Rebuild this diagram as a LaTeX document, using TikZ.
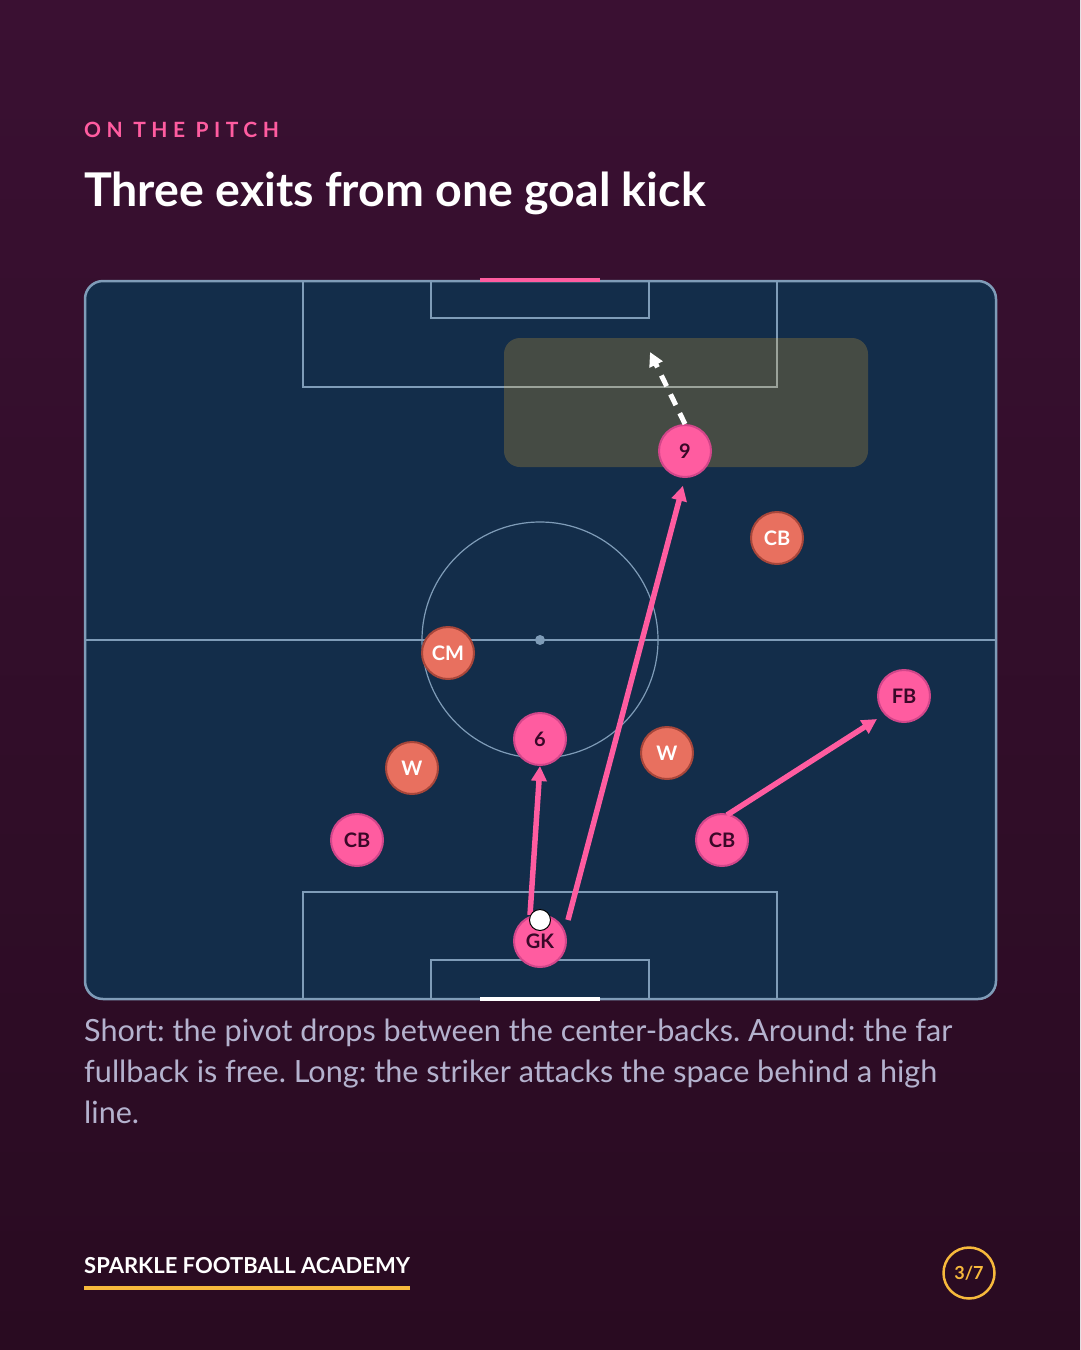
\documentclass[tikz,border=0pt]{standalone}
\usepackage{fontspec}
\setmainfont{Lato}
\newfontfamily\latospaced[LetterSpace=26]{Lato}
\usetikzlibrary{arrows.meta}
\definecolor{bgtop}{HTML}{3A1032}
\definecolor{bgbot}{HTML}{290B21}
\definecolor{pitch}{HTML}{132D4A}
\definecolor{pline}{HTML}{7F9CB8}
\definecolor{pk}{HTML}{FF5CA0}
\definecolor{pkb}{HTML}{D2468A}
\definecolor{pktext}{HTML}{3A0828}
\definecolor{sal}{HTML}{E8705F}
\definecolor{salb}{HTML}{A8463A}
\definecolor{cap}{HTML}{B4B2CE}
\definecolor{gold}{HTML}{F7B93C}
\definecolor{zone}{HTML}{FABA33}
\tikzset{
  pl/.style={draw=pline, line width=1.5pt},
  mate/.style={circle, minimum size=52pt, inner sep=0pt, fill=pk, draw=pkb, line width=2pt, text=pktext, font=\bfseries\fontsize{20}{23}\selectfont},
  opp/.style={circle, minimum size=52pt, inner sep=0pt, fill=sal, draw=salb, line width=2pt, text=white, font=\bfseries\fontsize{20}{23}\selectfont},
  pass/.style={draw=pk, line width=5.5pt, -{Triangle[length=15pt,width=15pt]}},
  run/.style={draw=white, line width=5pt, dash pattern=on 12pt off 9pt, -{Triangle[length=14pt,width=14pt]}},
}
\frenchspacing
\begin{document}
\begin{tikzpicture}[x=1pt,y=-1pt]
\useasboundingbox (0,0) rectangle (1080,1350);
\shade[top color=bgtop, bottom color=bgbot] (0,0) rectangle (1080,1350);
% header
\node[anchor=west, inner sep=0pt, text=pk, font=\latospaced\bfseries\fontsize{21}{24}\selectfont] (kicker) at (84,130) {ON THE PITCH};
\node[anchor=west, inner sep=0pt, text=white, font=\bfseries\fontsize{46.5}{54}\selectfont] (title) at (84,193) {Three exits from one goal kick};
% pitch
\fill[pitch, rounded corners=18pt] (85,281) rectangle (996,999);
\begin{scope}
\clip[rounded corners=18pt] (85,281) rectangle (996,999);
\draw[pl] (85,640) -- (996,640);
\draw[pl] (303,281) rectangle (777,387);
\draw[pl] (431,281) rectangle (649,318);
\draw[pl] (303,999) rectangle (777,892);
\draw[pl] (431,999) rectangle (649,960);
\draw[pl, line width=1.2pt] (540,640) circle (118);
\fill[pline] (540,640) circle (5);
\end{scope}
\draw[draw=pline, line width=2.5pt, rounded corners=18pt] (85,281) rectangle (996,999);
\draw[pk, line width=4pt] (480,280) -- (600,280);
\draw[white, line width=4pt] (480,999) -- (600,999);
% target zone
\fill[zone, fill opacity=0.22, rounded corners=16pt] (504,338) rectangle (868,467);
% players
\node[mate] (nine) at (685,451) {9};
\node[opp] (ocb) at (777,538) {CB};
\node[opp] (ocm) at (448,653) {CM};
\node[mate] (fb) at (904,696) {FB};
\node[mate] (six) at (540,739) {6};
\node[opp] (owl) at (412,768) {W};
\node[opp] (owr) at (667,753) {W};
\node[mate] (cbl) at (357,840) {CB};
\node[mate] (cbr) at (722,840) {CB};
\node[mate] (gk) at (540,941) {GK};
% passes
\coordinate (s1) at (530,915);
\coordinate (s2) at (568,920);
\coordinate (s3) at (727,815);
\coordinate (t3) at (877,719);
\draw[pass] (s1) -- (six.south);
\draw[pass, shorten >=8pt] (s2) -- (nine.south);
\draw[pass] (s3) -- (t3);
\coordinate (runend) at (650,352);
\draw[run] (nine.north) -- (runend);
% ball
\node[circle, fill=white, draw=black, line width=1pt, minimum size=21pt, inner sep=0pt] (ball) at (540,920) {};
% caption
\node[anchor=north west, align=left, text=cap, font=\fontsize{30.6}{41}\selectfont, inner sep=0pt] (caption) at (84,1019) {Short: the pivot drops between the center-backs. Around: the far\\fullback is free. Long: the striker attacks the space behind a high\\line.};
% footer
\node[anchor=west, text=white, font=\bfseries\fontsize{22}{26}\selectfont, inner sep=0pt] (brand) at (84,1266) {SPARKLE FOOTBALL ACADEMY};
\draw[gold, line width=4pt] (84,1288) -- (410,1288);
\node[circle, draw=gold, line width=2.5pt, minimum size=51pt, inner sep=0pt, text=gold, font=\bfseries\fontsize{18}{21}\selectfont] (page) at (969,1273) {3/7};
\end{tikzpicture}
\end{document}
